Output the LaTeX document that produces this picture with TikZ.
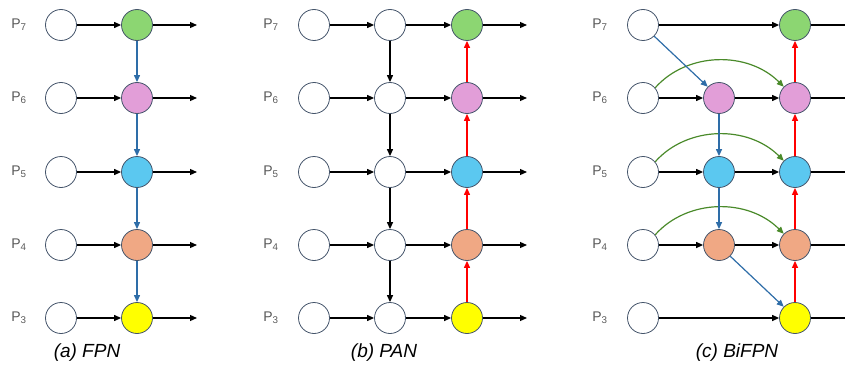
\documentclass[tikz,border=0pt]{standalone}
\usepackage{fontspec}
\setmainfont{Liberation Sans}
\usetikzlibrary{arrows.meta}
\definecolor{cgreen}{HTML}{8CD672}
\definecolor{cpink}{HTML}{E29ED8}
\definecolor{cblue}{HTML}{5BC8F0}
\definecolor{corange}{HTML}{F0A884}
\definecolor{cyell}{HTML}{FFFF00}
\definecolor{cedge}{HTML}{44546A}
\definecolor{ablue}{HTML}{2E6DA8}
\definecolor{agreen}{HTML}{4A8A2A}
\definecolor{lgray}{HTML}{595959}
\tikzset{
  feat/.style={circle,draw=cedge,line width=0.8pt,minimum size=31pt,inner sep=0pt,fill=white},
  blk/.style={draw=black,line width=1.2pt,-{Triangle[length=7pt,width=6pt]}},
  blu/.style={draw=ablue,line width=1.2pt,-{Triangle[length=7pt,width=6pt]}},
  rdd/.style={draw=red,line width=1.2pt,-{Triangle[length=7pt,width=6pt]}},
  grn/.style={draw=agreen,line width=1.2pt,-{Triangle[length=7pt,width=6pt]}},
  plab/.style={text=lgray,font=\fontsize{14}{16}\selectfont},
  captxt/.style={font=\fontsize{19}{22}\selectfont\itshape}
}
\begin{document}
\begin{tikzpicture}[x=1pt,y=-1pt]
\useasboundingbox (0,0) rectangle (845,369);
\def\ya{25}\def\yb{98}\def\yc{172}\def\yd{245}\def\ye{318}
% ---------------- FPN
\foreach \n/\y in {7/\ya,6/\yb,5/\yc,4/\yd,3/\ye}{
  \node[plab] (aL\n) at (19,\y) {P\textsubscript{\n}};
  \node[feat] (aI\n) at (61,\y) {};
  \coordinate (aE\n) at (197,\y);
}
\node[feat,fill=cgreen] (aO7) at (137,\ya) {};
\node[feat,fill=cpink] (aO6) at (137,\yb) {};
\node[feat,fill=cblue] (aO5) at (137,\yc) {};
\node[feat,fill=corange] (aO4) at (137,\yd) {};
\node[feat,fill=cyell] (aO3) at (137,\ye) {};
\foreach \n in {7,6,5,4,3}{
  \draw[blk] (aI\n) -- (aO\n);
  \draw[blk] (aO\n) -- (aE\n);
}
\draw[blu] (aO7) -- (aO6);
\draw[blu] (aO6) -- (aO5);
\draw[blu] (aO5) -- (aO4);
\draw[blu] (aO4) -- (aO3);
\node[captxt] (capa) at (87,353) {(a) FPN};
% ---------------- PAN
\foreach \n/\y in {7/\ya,6/\yb,5/\yc,4/\yd,3/\ye}{
  \node[plab] (bL\n) at (271,\y) {P\textsubscript{\n}};
  \node[feat] (bI\n) at (314,\y) {};
  \node[feat] (bM\n) at (390,\y) {};
  \coordinate (bE\n) at (527,\y);
}
\node[feat,fill=cgreen] (bO7) at (467,\ya) {};
\node[feat,fill=cpink] (bO6) at (467,\yb) {};
\node[feat,fill=cblue] (bO5) at (467,\yc) {};
\node[feat,fill=corange] (bO4) at (467,\yd) {};
\node[feat,fill=cyell] (bO3) at (467,\ye) {};
\foreach \n in {7,6,5,4,3}{
  \draw[blk] (bI\n) -- (bM\n);
  \draw[blk] (bM\n) -- (bO\n);
  \draw[blk] (bO\n) -- (bE\n);
}
\draw[blk] (bM7) -- (bM6);
\draw[blk] (bM6) -- (bM5);
\draw[blk] (bM5) -- (bM4);
\draw[blk] (bM4) -- (bM3);
\draw[rdd] (bO3) -- (bO4);
\draw[rdd] (bO4) -- (bO5);
\draw[rdd] (bO5) -- (bO6);
\draw[rdd] (bO6) -- (bO7);
\node[captxt] (capb) at (384,353) {(b) PAN};
% ---------------- BiFPN
\foreach \n/\y in {7/\ya,6/\yb,5/\yc,4/\yd,3/\ye}{
  \node[plab] (cL\n) at (600,\y) {P\textsubscript{\n}};
  \node[feat] (cI\n) at (643,\y) {};
  \coordinate (cE\n) at (845,\y);
}
\node[feat,fill=cpink] (cM6) at (719,\yb) {};
\node[feat,fill=cblue] (cM5) at (719,\yc) {};
\node[feat,fill=corange] (cM4) at (719,\yd) {};
\node[feat,fill=cgreen] (cO7) at (795,\ya) {};
\node[feat,fill=cpink] (cO6) at (795,\yb) {};
\node[feat,fill=cblue] (cO5) at (795,\yc) {};
\node[feat,fill=corange] (cO4) at (795,\yd) {};
\node[feat,fill=cyell] (cO3) at (795,\ye) {};
\foreach \n in {7,6,5,4,3}{
  \draw[black,line width=1.2pt] (cO\n) -- (cE\n);
}
\draw[blk] (cI7) -- (cO7);
\draw[blk] (cI3) -- (cO3);
\foreach \n in {6,5,4}{
  \draw[blk] (cI\n) -- (cM\n);
  \draw[blk] (cM\n) -- (cO\n);
  \draw[grn] (cI\n.40) .. controls +(32,-36) and +(-36,-36) .. (cO\n.135);
}
\draw[blu] (cI7.-45) -- (cM6.135);
\draw[blu] (cM6) -- (cM5);
\draw[blu] (cM5) -- (cM4);
\draw[blu] (cM4.-45) -- (cO3.135);
\draw[rdd] (cO3) -- (cO4);
\draw[rdd] (cO4) -- (cO5);
\draw[rdd] (cO5) -- (cO6);
\draw[rdd] (cO6) -- (cO7);
\node[captxt] (capc) at (737,353) {(c) BiFPN};
\end{tikzpicture}
\end{document}
